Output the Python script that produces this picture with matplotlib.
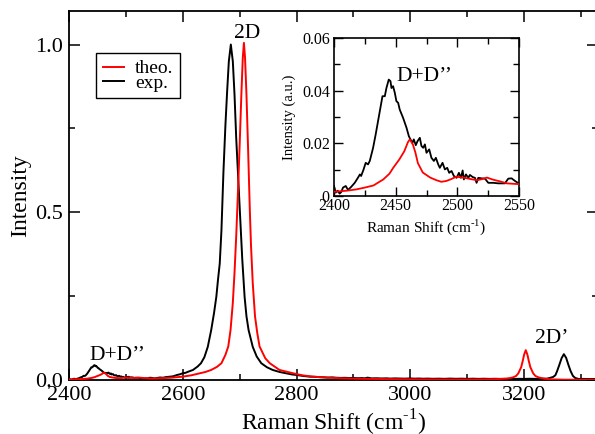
import matplotlib
matplotlib.use("Agg")
import matplotlib.pyplot as plt
from matplotlib.ticker import MultipleLocator, FixedLocator

plt.rcParams['font.family'] = ['Liberation Serif', 'DejaVu Serif']
plt.rcParams['mathtext.fontset'] = 'custom'
plt.rcParams['mathtext.rm'] = 'Liberation Serif'

# ---------------- data ----------------
theo_x = [2400, 2410, 2418, 2425, 2432, 2440, 2445, 2448, 2453, 2457,
          2460, 2461.5, 2464, 2466, 2468, 2472, 2478, 2483, 2487, 2491,
          2495, 2499, 2505, 2510, 2516, 2520, 2524, 2529, 2535, 2540,
          2550, 2560, 2580, 2600, 2615, 2630, 2640, 2650, 2660, 2668,
          2675, 2680, 2684, 2688, 2691, 2694, 2697, 2700, 2703, 2705.5,
          2707.5, 2709.5, 2712, 2715, 2718, 2720, 2723, 2727, 2731, 2735,
          2745, 2753, 2770, 2794, 2810, 2828, 2850, 2880, 2920, 2970,
          3030, 3090, 3130, 3150, 3170, 3180, 3186, 3190, 3195, 3198,
          3200, 3203, 3206, 3208, 3211, 3216, 3220, 3226, 3236, 3250,
          3270, 3300, 3330]
theo_y = [0.0016, 0.0020, 0.0025, 0.0032, 0.0040, 0.0063, 0.0085, 0.0107, 0.0139, 0.0170,
          0.0205, 0.0215, 0.0195, 0.0165, 0.0125, 0.0089, 0.0070, 0.0060, 0.0054, 0.0057,
          0.0064, 0.0073, 0.0070, 0.0065, 0.0060, 0.0064, 0.0070, 0.0062, 0.0055, 0.0048,
          0.0045, 0.0052, 0.0068, 0.0100, 0.0140, 0.0200, 0.0240, 0.0300, 0.0390, 0.0500,
          0.0750, 0.1000, 0.1490, 0.2300, 0.3200, 0.4300, 0.5600, 0.7000, 0.8500, 0.9600,
          1.0050, 0.9600, 0.8500, 0.6800, 0.5000, 0.4000, 0.2900, 0.1900, 0.1400, 0.1000,
          0.0650, 0.0500, 0.0300, 0.0200, 0.0140, 0.0100, 0.0075, 0.0050, 0.0035, 0.0025,
          0.0018, 0.0015, 0.0020, 0.0026, 0.0040, 0.0075, 0.0120, 0.0200, 0.0386, 0.0590,
          0.0750, 0.0890, 0.0750, 0.0590, 0.0386, 0.0200, 0.0120, 0.0075, 0.0038, 0.0018,
          0.0010, 0.0007, 0.0006]

# experimental spectrum, in four stretches
exp_x_ddpp = [2400, 2401.4, 2403, 2404.6, 2406, 2407.3, 2409.5, 2411.4, 2414, 2416.8,
              2419.5, 2421, 2422, 2424, 2425.7, 2427.6, 2429, 2431.7, 2433.8, 2435.7,
              2437.6, 2439.3, 2441.2, 2442.5, 2444.4, 2445.8, 2446.6, 2447.9, 2449.3, 2450.6,
              2452, 2453.3, 2456, 2458.8, 2460.7, 2462, 2463.6, 2464.7, 2466.3, 2467.7,
              2469.6, 2470.9, 2472.3, 2473.7, 2475, 2477.2, 2479, 2481, 2482.6, 2484.5,
              2485.8, 2488, 2489.9, 2491.8, 2493.4, 2495.3, 2497.2, 2499.4, 2501.3, 2502.9,
              2504.3, 2505.3, 2507, 2508.9, 2510.2, 2512.4, 2514.3, 2515.6, 2517, 2519.7,
              2522.4, 2525.1, 2529.2, 2533.2, 2538.6, 2541.3, 2544, 2546.8, 2550]
exp_y_ddpp = [0.0038, 0.0013, 0.0020, 0.0009, 0.0016, 0.0032, 0.0038, 0.0023, 0.0035, 0.0050,
              0.0070, 0.0082, 0.0076, 0.0101, 0.0126, 0.0120, 0.0133, 0.0183, 0.0234, 0.0284,
              0.0335, 0.0379, 0.0379, 0.0410, 0.0442, 0.0436, 0.0410, 0.0417, 0.0392, 0.0360,
              0.0354, 0.0328, 0.0297, 0.0259, 0.0227, 0.0215, 0.0202, 0.0215, 0.0193, 0.0208,
              0.0221, 0.0190, 0.0183, 0.0196, 0.0164, 0.0177, 0.0145, 0.0133, 0.0145, 0.0120,
              0.0107, 0.0126, 0.0101, 0.0107, 0.0088, 0.0095, 0.0076, 0.0069, 0.0088, 0.0069,
              0.0097, 0.0063, 0.0082, 0.0069, 0.0080, 0.0072, 0.0069, 0.0050, 0.0069, 0.0067,
              0.0066, 0.0050, 0.0050, 0.0048, 0.0048, 0.0066, 0.0067, 0.0057, 0.0047]

exp_x_2d = [2555, 2560, 2565, 2570, 2577, 2583, 2590, 2595, 2600, 2605,
            2610, 2618, 2626, 2632, 2638, 2644, 2650, 2655, 2659, 2662,
            2665, 2668, 2671.5, 2675, 2678, 2681, 2684.5, 2688, 2691, 2694,
            2697.5, 2702, 2704.6, 2708.7, 2712, 2715.7, 2723, 2730, 2738, 2748,
            2758, 2770, 2782, 2792, 2800, 2812, 2823]
exp_y_2d = [0.0060, 0.0075, 0.0068, 0.0085, 0.0100, 0.0110, 0.0150, 0.0170, 0.0200, 0.0215,
            0.0250, 0.0300, 0.0400, 0.0500, 0.0680, 0.0990, 0.1490, 0.2000, 0.2480, 0.3000,
            0.3470, 0.4460, 0.6200, 0.7600, 0.8600, 0.9500, 1.0000, 0.9500, 0.8500, 0.7200,
            0.6000, 0.4460, 0.3600, 0.2480, 0.1900, 0.1490, 0.0990, 0.0700, 0.0500, 0.0380,
            0.0300, 0.0240, 0.0200, 0.0165, 0.0150, 0.0120, 0.0100]

exp_x_base = [2833, 2840, 2848, 2855, 2863, 2870, 2878, 2885, 2893, 2900,
              2908, 2915, 2920, 2925, 2932, 2940, 2950, 2958, 2965, 2973,
              2980, 2990, 3000, 3008, 3015, 3023, 3030, 3040, 3050, 3060,
              3070, 3080, 3090, 3100, 3110, 3120, 3130, 3140, 3150, 3160,
              3170, 3180, 3190, 3200, 3210, 3220, 3230, 3240]
exp_y_base = [0.0095, 0.0085, 0.0080, 0.0072, 0.0078, 0.0068, 0.0062, 0.0066, 0.0058, 0.0062,
              0.0054, 0.0058, 0.0050, 0.0070, 0.0048, 0.0052, 0.0046, 0.0050, 0.0042, 0.0048,
              0.0044, 0.0040, 0.0046, 0.0040, 0.0044, 0.0038, 0.0042, 0.0036, 0.0040, 0.0035,
              0.0042, 0.0036, 0.0040, 0.0034, 0.0039, 0.0034, 0.0038, 0.0033, 0.0037, 0.0032,
              0.0036, 0.0031, 0.0035, 0.0033, 0.0037, 0.0034, 0.0036, 0.0040]

exp_x_2dp = [3245, 3251, 3255, 3258, 3262, 3266, 3270, 3274, 3278, 3282,
             3286, 3290, 3296, 3305, 3315, 3330]
exp_y_2dp = [0.0060, 0.0090, 0.0140, 0.0260, 0.0450, 0.0650, 0.0770, 0.0660, 0.0450, 0.0260,
             0.0120, 0.0060, 0.0030, 0.0032, 0.0028, 0.0030]

exp_x = exp_x_ddpp + exp_x_2d + exp_x_base + exp_x_2dp
exp_y = exp_y_ddpp + exp_y_2d + exp_y_base + exp_y_2dp

main_xticks = [2400, 2600, 2800, 3000, 3200]
main_yticks = [0.0, 0.5, 1.0]
main_yticklabels = ["0.0", "0.5", "1.0"]
inset_xticks = [2400, 2450, 2500, 2550]
inset_yticks = [0.0, 0.02, 0.04, 0.06]
inset_yticklabels = ["0", "0.02", "0.04", "0.06"]
legend_labels = ["theo.", "exp."]
xlabel_text = "Raman Shift (cm$^{\\mathregular{\u20101}}$)"

# ---------------- figure ----------------
fig = plt.figure(figsize=(5.95, 4.34), dpi=100)
ax = fig.add_axes([69/595, 54/434, 529/595, 369/434])

ax.plot(theo_x, theo_y, color='#ff0000', lw=1.4, label=legend_labels[0], zorder=3)
ax.plot(exp_x, exp_y, color='black', lw=1.4, label=legend_labels[1], zorder=2)

ax.set_xlim(2400, 3330)
ax.set_ylim(0, 1.1)
ax.xaxis.set_major_locator(FixedLocator(main_xticks))
ax.xaxis.set_minor_locator(MultipleLocator(100))
ax.yaxis.set_major_locator(FixedLocator(main_yticks))
ax.set_yticklabels(main_yticklabels)
ax.yaxis.set_minor_locator(MultipleLocator(0.25))
ax.tick_params(which='both', direction='in', top=True, right=True, width=1.1,
               labelsize=16, colors='black')
ax.tick_params(which='major', length=8, pad=4)
ax.tick_params(which='minor', length=4.5)
for s in ax.spines.values():
    s.set_linewidth(1.3)
ax.set_xlabel(xlabel_text, fontsize=17, labelpad=2)
ax.set_ylabel("Intensity", fontsize=17, labelpad=3)

ax.text(2714, 1.02, "2D", fontsize=15.5, ha='center', va='baseline')
ax.text(2436, 0.06, "D+D\u2019\u2019", fontsize=15.5, ha='left', va='baseline')
ax.text(3219, 0.11, "2D\u2019", fontsize=15.5, ha='left', va='baseline')

leg = ax.legend(loc='upper left', bbox_to_anchor=((96-69)/529, (380-53)/369),
                borderaxespad=0, fontsize=14, frameon=True, fancybox=False,
                edgecolor='black', framealpha=1, labelspacing=-0.18,
                handlelength=1.1, handletextpad=0.55, borderpad=0.35)
leg.get_frame().set_linewidth(1.0)

# ---------------- inset ----------------
ins = fig.add_axes([334/595, (434-196)/434, 185/595, 158/434])
ins.plot(theo_x, theo_y, color='#ff0000', lw=1.3, zorder=3)
ins.plot(exp_x, exp_y, color='black', lw=1.3, zorder=2)
ins.set_xlim(2400, 2550)
ins.set_ylim(0, 0.06)
ins.xaxis.set_major_locator(FixedLocator(inset_xticks))
ins.xaxis.set_minor_locator(MultipleLocator(25))
ins.yaxis.set_major_locator(FixedLocator(inset_yticks))
ins.set_yticklabels(inset_yticklabels)
ins.yaxis.set_minor_locator(MultipleLocator(0.01))
ins.tick_params(which='both', direction='in', top=True, right=True, width=1.0,
                labelsize=11.5)
ins.tick_params(axis='x', which='both', pad=1.5)
ins.tick_params(axis='y', which='both', pad=3)
ins.tick_params(which='major', length=6.5)
ins.tick_params(which='minor', length=4)
for s in ins.spines.values():
    s.set_linewidth(1.2)
ins.set_xlabel(xlabel_text, fontsize=11, labelpad=2)
ins.set_ylabel("Intensity (a.u.)", fontsize=10.5, labelpad=4)
ins.text(2450.3, 0.0437, "D+D\u2019\u2019", fontsize=15.5, ha='left', va='baseline')

fig.savefig("out.png", dpi=100)
